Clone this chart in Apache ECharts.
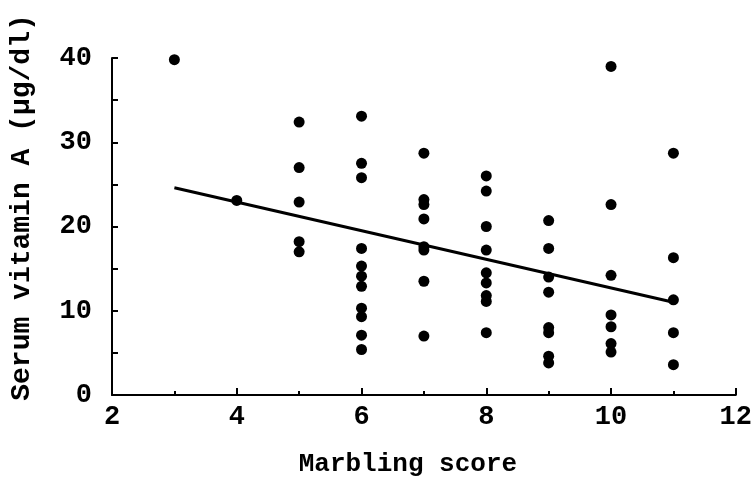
<!DOCTYPE html>
<html>
<head>
<meta charset="utf-8">
<script src="https://cdn.jsdelivr.net/npm/echarts@6.0.0/dist/echarts.min.js"></script>
<style>
  html, body { margin: 0; padding: 0; background: #fff; }
  #chart { width: 755px; height: 484px; }
</style>
</head>
<body>
<div id="chart"></div>
<script>
// marbling score of each animal and its serum vitamin A (ug/dl)
var marbling = [
  3,
  4,
  5, 5, 5, 5, 5,
  6, 6, 6, 6, 6, 6, 6, 6, 6, 6, 6,
  7, 7, 7, 7, 7, 7, 7, 7,
  8, 8, 8, 8, 8, 8, 8, 8, 8,
  9, 9, 9, 9, 9, 9, 9, 9,
  10, 10, 10, 10, 10, 10, 10,
  11, 11, 11, 11, 11
];
var vitaminA = [
  39.8,
  23.1,
  32.4, 27.0, 22.9, 18.2, 17.0,
  33.1, 27.5, 25.8, 17.4, 15.3, 14.1, 12.9, 10.3, 9.3, 7.1, 5.4,
  28.7, 23.2, 22.6, 20.9, 17.6, 17.2, 13.5, 7.0,
  26.0, 24.2, 20.0, 17.2, 14.5, 13.3, 11.8, 11.1, 7.4,
  20.7, 17.4, 14.0, 12.2, 8.0, 7.4, 4.6, 3.8,
  39.0, 22.6, 14.2, 9.5, 8.1, 6.1, 5.1,
  28.7, 16.3, 11.3, 7.4, 3.6
];
// fitted regression line end points
var fitX = [3, 11];
var fitY = [24.6, 11.0];

var xTicks = [2, 4, 6, 8, 10, 12];
var yTicks = [0, 10, 20, 30, 40];

var font = '"Liberation Mono", "DejaVu Sans Mono", monospace';
var ink = '#000';

var chart = echarts.init(document.getElementById('chart'));

var option = {
  animation: false,
  backgroundColor: '#fff',
  grid: { left: 112, right: 14, top: 58, bottom: 89 },
  xAxis: {
    type: 'value',
    min: xTicks[0],
    max: xTicks[xTicks.length - 1],
    interval: 2,
    name: 'Marbling score',
    nameLocation: 'middle',
    nameGap: 56,
    nameTextStyle: { fontFamily: font, fontWeight: 'bold', fontSize: 26, color: ink, padding: [0, 32, 0, 0] },
    axisLine: { lineStyle: { color: ink, width: 2 } },
    axisTick: { inside: true, length: 7, lineStyle: { color: ink, width: 2 } },
    minorTick: { show: true, splitNumber: 2, length: 4, lineStyle: { color: ink, width: 2 } },
    axisLabel: { fontFamily: font, fontWeight: 'bold', fontSize: 27, color: ink, margin: 9 },
    splitLine: { show: false }
  },
  yAxis: {
    type: 'value',
    min: yTicks[0],
    max: yTicks[yTicks.length - 1],
    interval: 10,
    name: 'Serum vitamin A (\u00b5g/dl)',
    nameLocation: 'middle',
    nameGap: 76,
    nameRotate: 90,
    nameTextStyle: { fontFamily: font, fontWeight: 'bold', fontSize: 28, color: ink, padding: [0, 0, 0, 38] },
    axisLine: { lineStyle: { color: ink, width: 2 } },
    axisTick: { inside: true, length: 6, lineStyle: { color: ink, width: 2 } },
    minorTick: { show: true, splitNumber: 2, length: 6, lineStyle: { color: ink, width: 2 } },
    axisLabel: { fontFamily: font, fontWeight: 'bold', fontSize: 27, color: ink, margin: 20 },
    splitLine: { show: false }
  },
  series: [
    {
      type: 'scatter',
      symbol: 'circle',
      symbolSize: 11,
      itemStyle: { color: ink, opacity: 1 },
      data: marbling.map(function (x, i) { return [x, vitaminA[i]]; })
    },
    {
      type: 'line',
      symbol: 'none',
      lineStyle: { color: ink, width: 3 },
      data: fitX.map(function (x, i) { return [x, fitY[i]]; })
    }
  ]
};

chart.setOption(option);
</script>
</body>
</html>
